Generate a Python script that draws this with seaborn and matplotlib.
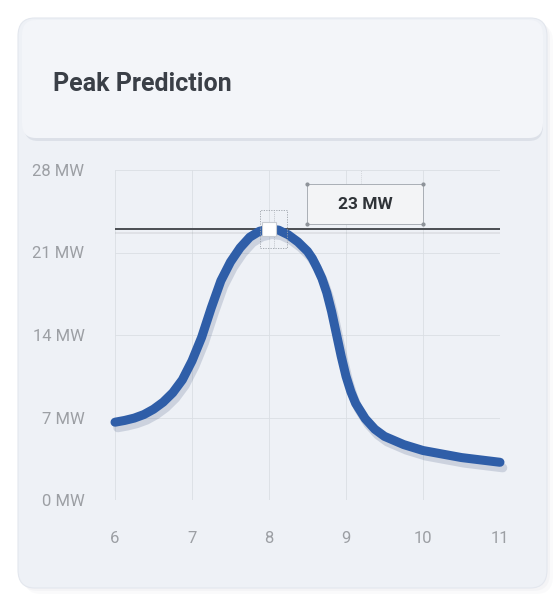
import numpy as np
import pandas as pd
import matplotlib
matplotlib.use("Agg")
import matplotlib.pyplot as plt
import matplotlib.patheffects as pe
from matplotlib.patches import FancyBboxPatch, Rectangle
import seaborn as sns

# values
hours = [6, 6.125, 6.25, 6.375, 6.5, 6.625, 6.75, 6.875, 7, 7.125, 7.25, 7.375, 7.5,
         7.625, 7.75, 7.875, 8, 8.125, 8.25, 8.375, 8.5, 8.5625, 8.625, 8.6875, 8.75,
         8.8125, 8.875, 8.9375, 9, 9.0625, 9.125, 9.25, 9.375, 9.5, 9.75, 10, 10.25,
         10.5, 10.75, 11]
load_mw = [6.6, 6.75, 6.95, 7.25, 7.7, 8.3, 9.1, 10.2, 11.8, 13.8, 16.3, 18.6, 20.2,
           21.4, 22.3, 22.8, 23.0, 22.9, 22.5, 21.9, 21.1, 20.5, 19.7, 18.8, 17.6,
           16.0, 14.1, 12.2, 10.5, 9.2, 8.2, 6.9, 6.0, 5.4, 4.7, 4.2, 3.9,
           3.6, 3.4, 3.2]
peak_hour = 8
peak_mw = 23
y_ticks = [0, 7, 14, 21, 28]
y_labels = ["0 MW", "7 MW", "14 MW", "21 MW", "28 MW"]
x_ticks = [6, 7, 8, 9, 10, 11]

df = pd.DataFrame({"hour": hours, "load": load_mw})

sns.set_theme(style="white")
plt.rcParams["font.family"] = ["Roboto", "DejaVu Sans"]

W, H = 555, 604
fig = plt.figure(figsize=(W / 100, H / 100), dpi=100)
fig.patch.set_facecolor("white")

def fx(px):
    return px / W

def fy(py):
    return 1 - py / H

# card + soft shadow
for off, a in [(6, 0.04), (3, 0.05)]:
    fig.patches.append(FancyBboxPatch((fx(18 + off), fy(588 + off)), fx(529), 570 / H,
                                      boxstyle="round,pad=0,rounding_size=0.03",
                                      transform=fig.transFigure, fc="#8a94a6", ec="none",
                                      alpha=a, zorder=0))
fig.patches.append(FancyBboxPatch((fx(18), fy(588)), fx(529), 570 / H,
                                  boxstyle="round,pad=0,rounding_size=0.03",
                                  transform=fig.transFigure, fc="#eef1f6", ec="#e3e7ee",
                                  lw=0.8, zorder=0.5))
# header band
fig.patches.append(FancyBboxPatch((fx(24), fy(141)), fx(519), 118 / H,
                                  boxstyle="round,pad=0,rounding_size=0.025",
                                  transform=fig.transFigure, fc="#d5dae3", ec="none",
                                  alpha=0.7, zorder=0.6))
fig.patches.append(FancyBboxPatch((fx(22), fy(138)), fx(521), 118 / H,
                                  boxstyle="round,pad=0,rounding_size=0.025",
                                  transform=fig.transFigure, fc="#f3f5f9", ec="none",
                                  zorder=0.7))
fig.text(fx(53), fy(84), "Peak Prediction", fontsize=18, fontweight="bold",
         color="#3a3f47", va="center", ha="left")

ax = fig.add_axes([fx(115), fy(500), fx(500 - 115), (500 - 170) / H])
ax.set_zorder(2)
ax.set_facecolor("none")

sns.lineplot(data=df, x="hour", y="load", ax=ax, color="#2f5ea8", linewidth=6.5,
             solid_capstyle="round", solid_joinstyle="round", clip_on=False, zorder=5,
             path_effects=[pe.SimpleLineShadow(offset=(2, -4), shadow_color="#1d3566",
                                               alpha=0.16, rho=1), pe.Normal()])

# threshold line at the predicted peak
ax.plot([x_ticks[0], x_ticks[-1]], [peak_mw, peak_mw], color="#4a4d52", lw=1.4, zorder=4,
        path_effects=[pe.SimpleLineShadow(offset=(0, -3), shadow_color="#555", alpha=0.1),
                      pe.Normal()])

# dotted guide box around the peak marker
ax.add_patch(Rectangle((peak_hour - 0.12, peak_mw - 1.6), 0.36, 3.2, fill=False,
                       ec="#9aa0a8", lw=0.6, ls=(0, (1.5, 1.5)), zorder=6))
ax.plot([peak_hour + 0.06, peak_hour + 0.06], [peak_mw - 1.6, peak_mw + 1.6],
        color="#b0b5bc", lw=0.5, ls=(0, (1.5, 1.5)), zorder=6)
ax.plot([peak_hour], [peak_mw], marker="s", markersize=10, mfc="white",
        mec="#c8ccd2", mew=0.8, zorder=7, clip_on=False)

# value label box
bx0, bx1, by0, by1 = 8.5, 10.0, peak_mw + 0.4, peak_mw + 3.8
ax.add_patch(Rectangle((bx0, by0), bx1 - bx0, by1 - by0, fc="#f3f4f6", ec="#a9aeb5",
                       lw=0.7, zorder=7))
ax.plot([bx0, bx1, bx0, bx1], [by0, by0, by1, by1], ls="none", marker="o",
        markersize=2, color="#8e939a", zorder=8)
ax.plot([9.2, 9.2], [by1, 28], color="#c9cdd3", lw=0.5, ls=(0, (1.5, 1.5)), zorder=3)
ax.text((bx0 + bx1) / 2, (by0 + by1) / 2, f"{peak_mw} MW", fontsize=12.5,
        fontweight="bold", color="#2f3338", ha="center", va="center", zorder=8)

ax.set_xlim(x_ticks[0], x_ticks[-1])
ax.set_ylim(y_ticks[0], y_ticks[-1])
ax.set_xticks(x_ticks)
ax.set_xticklabels([str(x) for x in x_ticks])
ax.set_yticks(y_ticks)
ax.set_yticklabels(y_labels)
ax.grid(True, color="#dadee4", lw=0.6)
for s in ax.spines.values():
    s.set_visible(False)
ax.tick_params(axis="both", length=0, labelsize=12, labelcolor="#9c9fa4")
ax.tick_params(axis="y", pad=22)
ax.tick_params(axis="x", pad=22)
ax.set_xlabel("")
ax.set_ylabel("")

fig.savefig("out.png", dpi=100)
